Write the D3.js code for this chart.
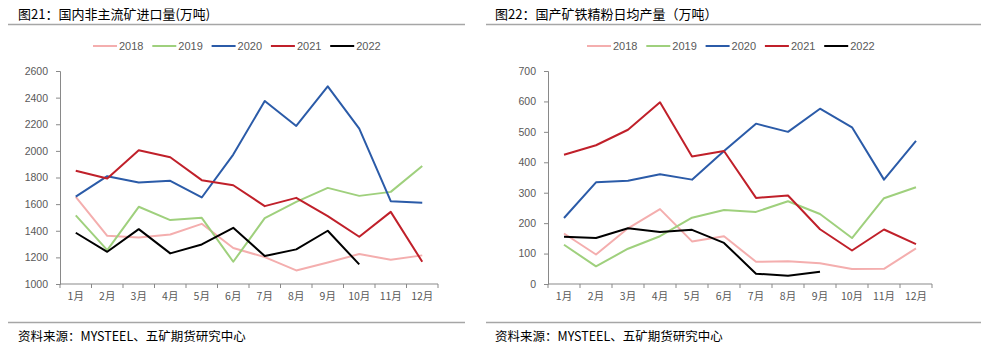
<!DOCTYPE html>
<html>
<head>
<meta charset="utf-8">
<script src="https://cdn.jsdelivr.net/npm/d3@7"></script>
<style>
  body { margin: 0; background: #fff; }
  svg { display: block; }
</style>
</head>
<body>
<div id="chart"></div>
<script>
// data
const months = ["1月","2月","3月","4月","5月","6月","7月","8月","9月","10月","11月","12月"];
const years = ["2018","2019","2020","2021","2022"];
const colors = ["#f4aeae","#9fd07d","#2b5ba8","#c0202a","#000000"];

// 图21 国内非主流矿进口量
const imp2018 = [1655,1362,1350,1372,1452,1270,1202,1102,1162,1225,1182,1215];
const imp2019 = [1515,1255,1580,1480,1497,1167,1495,1617,1722,1662,1692,1887];
const imp2020 = [1657,1810,1762,1775,1650,1972,2375,2187,2485,2167,1622,1610];
const imp2021 = [1850,1792,2005,1952,1780,1742,1585,1647,1510,1355,1542,1167];
const imp2022 = [1385,1242,1412,1230,1297,1422,1210,1260,1400,1147];
const impTicks = [1000,1200,1400,1600,1800,2000,2200,2400,2600];

// 图22 国产矿铁精粉日均产量
const prod2018 = [166,97,183,246,140,157,73,75,68,49,50,117];
const prod2019 = [129,58,116,157,218,243,237,272,230,151,282,318];
const prod2020 = [217,334,339,361,343,437,527,500,576,515,343,470];
const prod2021 = [425,456,507,597,419,437,283,291,180,110,179,131];
const prod2022 = [155,151,183,171,178,135,34,27,40];
const prodTicks = [0,100,200,300,400,500,600,700];

const svg = d3.select("#chart").append("svg")
  .attr("width", 1000)
  .attr("height", 351);

const cjk = "'Noto Sans CJK SC', 'Noto Sans', sans-serif";
const num = "'Liberation Sans', Arial, sans-serif";

function drawChart(opt) {
  const g = svg.append("g");

  // title + rule
  g.append("text")
    .attr("x", opt.titleX).attr("y", 19)
    .style("font-family", cjk).style("font-size", "13px").style("fill", "#000")
    .text(opt.title);
  g.append("line")
    .attr("x1", opt.ruleX1).attr("x2", opt.ruleX2)
    .attr("y1", 24.5).attr("y2", 24.5)
    .style("stroke", "#a6a6a6").style("stroke-width", 1.5);

  // legend
  years.forEach(function(yr, i) {
    const lx = opt.legendX + i * 59.3;
    g.append("line")
      .attr("x1", lx).attr("x2", lx + 24)
      .attr("y1", 46).attr("y2", 46)
      .style("stroke", colors[i]).style("stroke-width", 2);
    g.append("text")
      .attr("x", lx + 26).attr("y", 50)
      .style("font-family", num).style("font-size", "11px").style("fill", "#595959")
      .text(yr);
  });

  const x = d3.scaleBand()
    .domain(months)
    .range([opt.left, opt.right]);

  const y = d3.scaleLinear()
    .domain([opt.ticks[0], opt.ticks[opt.ticks.length - 1]])
    .range([284, 71]);

  // y axis
  const yAxis = g.append("g")
    .attr("transform", `translate(${opt.left},0)`)
    .call(d3.axisLeft(y).tickValues(opt.ticks).tickFormat(d3.format("d")).tickSize(4).tickPadding(8));
  yAxis.select(".domain").style("stroke", "#898989");
  yAxis.selectAll(".tick line").style("stroke", "#898989");
  yAxis.selectAll("text")
    .style("font-family", num).style("font-size", "10.5px").style("fill", "#595959");

  // x axis: labels at band centres, ticks on band edges
  const xAxis = g.append("g")
    .attr("transform", "translate(0,284)")
    .call(d3.axisBottom(x).tickSize(0).tickPadding(9));
  xAxis.select(".domain").remove();
  xAxis.selectAll("text")
    .style("font-family", cjk).style("font-size", "10.5px").style("fill", "#595959");
  g.append("line")
    .attr("x1", opt.left).attr("x2", opt.right)
    .attr("y1", 284).attr("y2", 284)
    .style("stroke", "#898989");
  const edges = months.map(function(m) { return x(m); }).concat([x.range()[1]]);
  g.selectAll(".edge")
    .data(edges)
    .enter().append("line")
      .attr("x1", function(d) { return d; })
      .attr("x2", function(d) { return d; })
      .attr("y1", 284).attr("y2", 288)
      .style("stroke", "#898989");

  // series
  const line = d3.line()
    .x(function(d, i) { return x(months[i]) + x.bandwidth() / 2; })
    .y(function(d) { return y(d); });

  opt.series.forEach(function(s, i) {
    g.append("path")
      .datum(s)
      .attr("d", line)
      .style("fill", "none")
      .style("stroke", colors[i])
      .style("stroke-width", 2)
      .style("stroke-linejoin", "round");
  });

  // footer
  g.append("line")
    .attr("x1", opt.ruleX1).attr("x2", opt.ruleX2)
    .attr("y1", 322.5).attr("y2", 322.5)
    .style("stroke", "#a6a6a6").style("stroke-width", 1.5);
  g.append("text")
    .attr("x", opt.titleX).attr("y", 341)
    .style("font-family", cjk).style("font-size", "12.5px").style("fill", "#000")
    .text("资料来源：MYSTEEL、五矿期货研究中心");
}

drawChart({
  title: "图21：国内非主流矿进口量(万吨)",
  titleX: 18, ruleX1: 8, ruleX2: 465,
  legendX: 93,
  left: 60, right: 438,
  ticks: impTicks,
  series: [imp2018, imp2019, imp2020, imp2021, imp2022]
});

drawChart({
  title: "图22：国产矿铁精粉日均产量（万吨）",
  titleX: 495, ruleX1: 486, ruleX2: 981,
  legendX: 587,
  left: 548, right: 932,
  ticks: prodTicks,
  series: [prod2018, prod2019, prod2020, prod2021, prod2022]
});
</script>
</body>
</html>
